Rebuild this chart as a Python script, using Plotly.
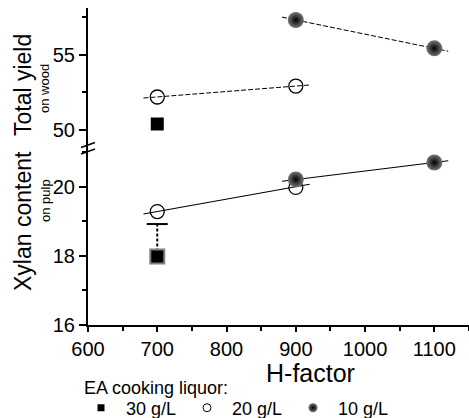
import plotly.graph_objects as go

# ---- data ----
h_30 = [700]
yield_30 = [50.4]
xylan_30 = [17.98]
xylan_30_err = [0.94]

h_20 = [700, 900]
yield_20 = [52.2, 52.93]
xylan_20 = [19.28, 19.98]

h_10 = [900, 1100]
yield_10 = [57.33, 55.44]
xylan_10 = [20.21, 20.7]

# fitted trend lines (end points)
fit20_h = [680, 920]
fit20_yield = [52.13, 53.0]
fit20_xylan = [19.21, 20.07]
fit10_h = [880, 1120]
fit10_yield = [57.52, 55.25]
fit10_xylan = [20.16, 20.75]

legend_names = ["30 g/L", "20 g/L", "10 g/L"]

FONT = "Liberation Sans, Arial, sans-serif"
W, H = 469, 418


def fx(px):
    return px / W


def fy(py):
    return (H - py) / H


fig = go.Figure()

sphere = dict(symbol="circle", color="#767676",
              gradient=dict(type="radial", color="#000000"),
              line=dict(width=0))

# ---- upper panel : total yield ----
fig.add_trace(go.Scatter(x=fit20_h, y=fit20_yield, mode="lines", xaxis="x", yaxis="y2",
                         line=dict(color="black", width=1, dash="5px,2px"), showlegend=False))
fig.add_trace(go.Scatter(x=fit10_h, y=fit10_yield, mode="lines", xaxis="x", yaxis="y2",
                         line=dict(color="black", width=1, dash="5px,2px"), showlegend=False))
fig.add_trace(go.Scatter(x=h_30, y=yield_30, mode="markers", xaxis="x", yaxis="y2",
                         marker=dict(symbol="square", size=13, color="black"), showlegend=False))
fig.add_trace(go.Scatter(x=h_20, y=yield_20, mode="markers", xaxis="x", yaxis="y2",
                         marker=dict(symbol="circle-open", size=14, color="black", line=dict(width=1.3)),
                         showlegend=False))
fig.add_trace(go.Scatter(x=h_10, y=yield_10, mode="markers", xaxis="x", yaxis="y2",
                         marker=dict(size=16, **sphere), showlegend=False))

# ---- lower panel : xylan content ----
fig.add_trace(go.Scatter(x=fit20_h, y=fit20_xylan, mode="lines", xaxis="x", yaxis="y",
                         line=dict(color="black", width=1.1), showlegend=False))
fig.add_trace(go.Scatter(x=fit10_h, y=fit10_xylan, mode="lines", xaxis="x", yaxis="y",
                         line=dict(color="black", width=1.1), showlegend=False))
# dashed error bar stem + cap for the 30 g/L point
err_top = [v + e for v, e in zip(xylan_30, xylan_30_err)]
fig.add_trace(go.Scatter(x=h_30 + h_30, y=xylan_30 + err_top, mode="lines", xaxis="x", yaxis="y",
                         line=dict(color="black", width=2, dash="3px,2px"), showlegend=False))
fig.add_trace(go.Scatter(x=h_30, y=err_top, mode="markers", xaxis="x", yaxis="y",
                         marker=dict(symbol="line-ew", size=15, line=dict(color="black", width=2)),
                         showlegend=False))
fig.add_trace(go.Scatter(x=h_30, y=xylan_30, mode="markers", xaxis="x", yaxis="y",
                         marker=dict(symbol="square", size=14, color="black",
                                     line=dict(color="#808080", width=2)), showlegend=False))
fig.add_trace(go.Scatter(x=h_20, y=xylan_20, mode="markers", xaxis="x", yaxis="y",
                         marker=dict(symbol="circle-open", size=14, color="black", line=dict(width=1.3)),
                         showlegend=False))
fig.add_trace(go.Scatter(x=h_10, y=xylan_10, mode="markers", xaxis="x", yaxis="y",
                         marker=dict(size=16, **sphere), showlegend=False))

# ---- legend entries ----
fig.add_trace(go.Scatter(x=[None], y=[None], mode="markers", name=legend_names[0],
                         marker=dict(symbol="square", size=7, color="black")))
fig.add_trace(go.Scatter(x=[None], y=[None], mode="markers", name=legend_names[1],
                         marker=dict(symbol="circle-open", size=8, color="black", line=dict(width=1))))
fig.add_trace(go.Scatter(x=[None], y=[None], mode="markers", name=legend_names[2],
                         marker=dict(size=9, **sphere)))

axis_common = dict(showline=True, linecolor="black", linewidth=2, showgrid=False, zeroline=False,
                   ticks="outside", tickcolor="black", tickwidth=1.5, automargin=False,
                   tickfont=dict(family=FONT, size=20, color="black"))

BRK = 148
fig.update_layout(
    width=W, height=H,
    margin=dict(l=0, r=0, t=0, b=0, autoexpand=False),
    paper_bgcolor="white", plot_bgcolor="white",
    font=dict(family=FONT, color="black"),
    xaxis=dict(domain=[fx(88), 1], range=[600, 1150], tickvals=[600, 700, 800, 900, 1000, 1100],
               ticklen=5,
               minor=dict(dtick=50, tick0=600, ticklen=4, ticks="outside", tickcolor="black"),
               anchor="y", **axis_common),
    yaxis=dict(domain=[fy(325), fy(BRK)], range=[16, 21.12], tickvals=[16, 18, 20], ticklen=7,
               minor=dict(dtick=1, tick0=16, ticklen=4, ticks="outside", tickcolor="black"),
               anchor="x", **axis_common),
    yaxis2=dict(domain=[fy(BRK), fy(8)], range=[48.8, 58.13], tickvals=[50, 55], ticklen=7,
                minor=dict(dtick=2.5, tick0=50, ticklen=4, ticks="outside", tickcolor="black"),
                anchor="x", **axis_common),
    showlegend=True,
    legend=dict(orientation="h", x=fx(76), y=fy(408), xanchor="left", yanchor="middle",
                font=dict(family=FONT, size=18, color="black"),
                bgcolor="rgba(0,0,0,0)", itemwidth=40, entrywidth=51, entrywidthmode="pixels"),
)

annotations = [
    dict(text="Total yield", x=fx(23), y=fy(85), textangle=-90, font=dict(size=23)),
    dict(text="on wood", x=fx(45), y=fy(89), textangle=-90, font=dict(size=13)),
    dict(text="Xylan content", x=fx(23), y=fy(221), textangle=-90, font=dict(size=23)),
    dict(text="on pulp", x=fx(45), y=fy(201), textangle=-90, font=dict(size=13)),
    dict(text="H-factor", x=fx(310), y=fy(373), font=dict(size=25)),
    dict(text="EA cooking liquor:", x=fx(156), y=fy(388), font=dict(size=18)),
]
for a in annotations:
    a.update(xref="paper", yref="paper", showarrow=False, xanchor="center", yanchor="middle")
    a["font"].update(family=FONT, color="black")
fig.update_layout(annotations=annotations)

# axis-break marks
shapes = []
for y0, y1 in [(147.5, 142.5), (154, 149)]:
    shapes.append(dict(type="line", xref="paper", yref="paper",
                       x0=fx(81), y0=fy(y0), x1=fx(95), y1=fy(y1),
                       line=dict(color="black", width=1.5)))
fig.update_layout(shapes=shapes)

fig.write_html("out.html")
